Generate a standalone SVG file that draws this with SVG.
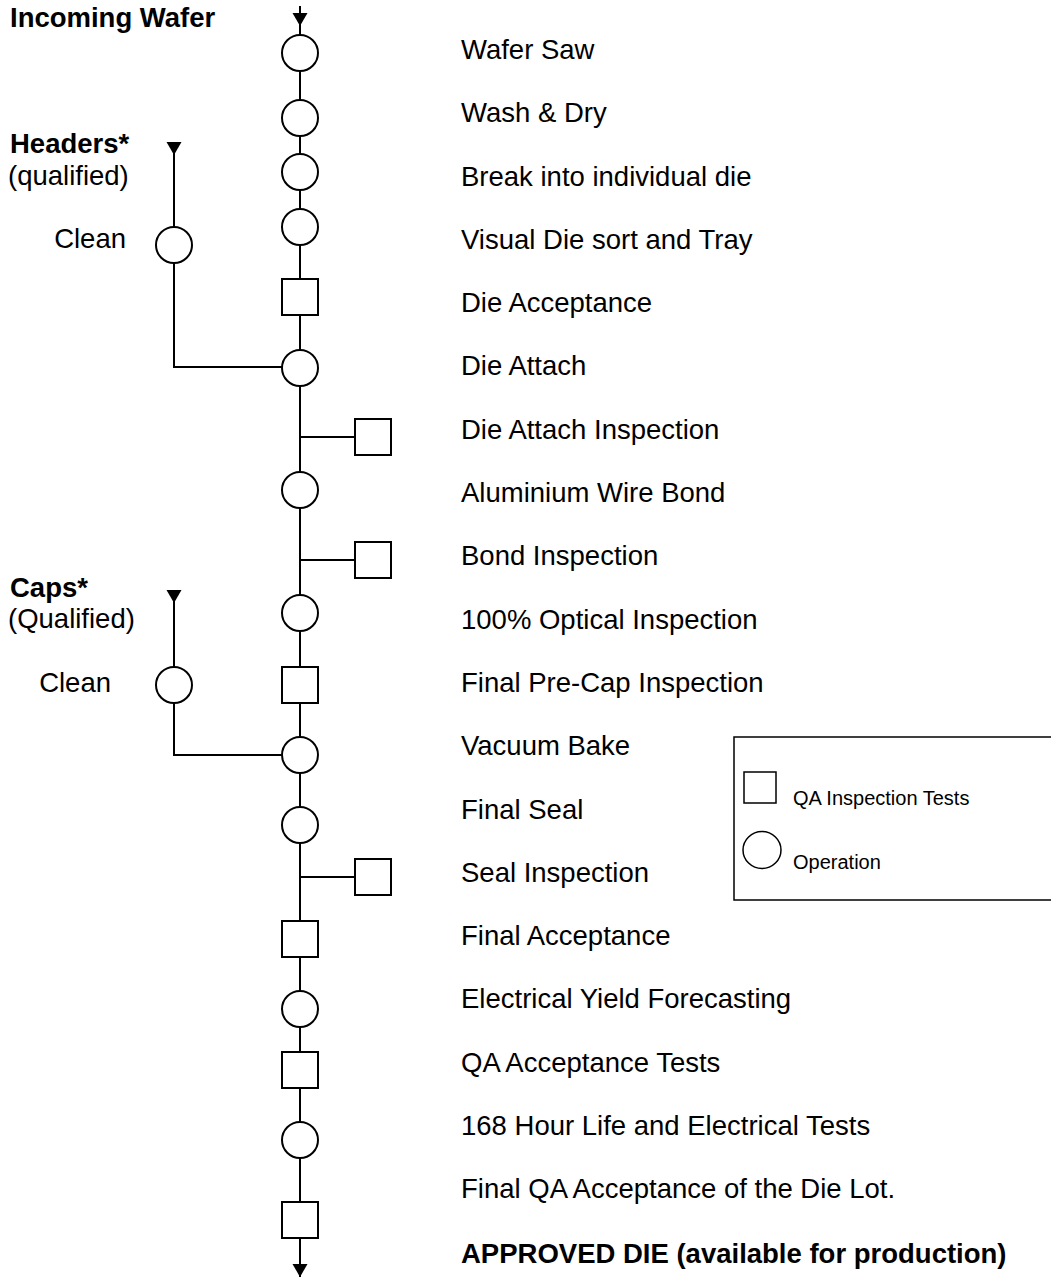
<svg xmlns="http://www.w3.org/2000/svg" width="1051" height="1278" viewBox="0 0 1051 1278">
<style>
text{font-family:"Liberation Sans",Arial,sans-serif;fill:#000}
.t{font-size:27.5px}
.b{font-size:27.5px;font-weight:bold}
.s{font-size:20px}
.op,.qa{fill:#fff;stroke:#000;stroke-width:2}
.c{fill:none;stroke:#000;stroke-width:2}
.lg{fill:#fff;stroke:#000;stroke-width:1.5}
</style>
<defs>
<marker id="ah" markerUnits="userSpaceOnUse" markerWidth="14" markerHeight="16" refX="13" refY="8" orient="auto" viewBox="0 0 14 16">
<path d="M0,0.5 L13,8 L0,15.5 z" fill="#000"/>
</marker>
</defs>
<rect width="1051" height="1278" fill="#fff"/>
<g id="connectors">
<path class="c" d="M300,6 V26" marker-end="url(#ah)"/>
<path class="c" d="M300,24 V35"/>
<path class="c" d="M300,71 V100"/>
<path class="c" d="M300,136 V154"/>
<path class="c" d="M300,190 V209"/>
<path class="c" d="M300,245 V279"/>
<path class="c" d="M300,315 V350"/>
<path class="c" d="M300,386 V472"/>
<path class="c" d="M300,437 H355"/>
<path class="c" d="M300,508 V595"/>
<path class="c" d="M300,560 H355"/>
<path class="c" d="M300,631 V667"/>
<path class="c" d="M300,703 V737"/>
<path class="c" d="M300,773 V807"/>
<path class="c" d="M300,843 V921"/>
<path class="c" d="M300,877 H355"/>
<path class="c" d="M300,957 V991"/>
<path class="c" d="M300,1027 V1052"/>
<path class="c" d="M300,1088 V1122"/>
<path class="c" d="M300,1158 V1202"/>
<path class="c" d="M300,1238 V1277" marker-end="url(#ah)"/>
<path class="c" d="M174,142 V155" marker-end="url(#ah)"/>
<path class="c" d="M174,153 V227"/>
<path class="c" d="M174,263 V367 H282"/>
<path class="c" d="M174,590 V603" marker-end="url(#ah)"/>
<path class="c" d="M174,601 V667"/>
<path class="c" d="M174,703 V755 H282"/>
</g>
<g id="labels-left">
<text class="b" x="10" y="27">Incoming Wafer</text>
<text class="b" x="10" y="153">Headers*</text>
<text class="t" x="8" y="185">(qualified)</text>
<text class="b" x="10" y="597">Caps*</text>
<text class="t" x="8" y="628">(Qualified)</text>
</g>
<g id="clean-headers"><circle class="op" cx="174" cy="245" r="18"/><text class="t" x="126" y="248" text-anchor="end">Clean</text></g>
<g id="clean-caps"><circle class="op" cx="174" cy="685" r="18"/><text class="t" x="111" y="692" text-anchor="end">Clean</text></g>
<g id="n0"><circle class="op" cx="300" cy="53" r="18"/><text class="t" x="461" y="59">Wafer Saw</text></g>
<g id="n1"><circle class="op" cx="300" cy="118" r="18"/><text class="t" x="461" y="122">Wash &amp; Dry</text></g>
<g id="n2"><circle class="op" cx="300" cy="172" r="18"/><text class="t" x="461" y="186">Break into individual die</text></g>
<g id="n3"><circle class="op" cx="300" cy="227" r="18"/><text class="t" x="461" y="249">Visual Die sort and Tray</text></g>
<g id="n4"><rect class="qa" x="282" y="279" width="36" height="36"/><text class="t" x="461" y="312">Die Acceptance</text></g>
<g id="n5"><circle class="op" cx="300" cy="368" r="18"/><text class="t" x="461" y="375">Die Attach</text></g>
<g id="n6"><rect class="qa" x="355" y="419" width="36" height="36"/><text class="t" x="461" y="439">Die Attach Inspection</text></g>
<g id="n7"><circle class="op" cx="300" cy="490" r="18"/><text class="t" x="461" y="502">Aluminium Wire Bond</text></g>
<g id="n8"><rect class="qa" x="355" y="542" width="36" height="36"/><text class="t" x="461" y="565">Bond Inspection</text></g>
<g id="n9"><circle class="op" cx="300" cy="613" r="18"/><text class="t" x="461" y="629">100% Optical Inspection</text></g>
<g id="n10"><rect class="qa" x="282" y="667" width="36" height="36"/><text class="t" x="461" y="692">Final Pre-Cap Inspection</text></g>
<g id="n11"><circle class="op" cx="300" cy="755" r="18"/><text class="t" x="461" y="755">Vacuum Bake</text></g>
<g id="n12"><circle class="op" cx="300" cy="825" r="18"/><text class="t" x="461" y="819">Final Seal</text></g>
<g id="n13"><rect class="qa" x="355" y="859" width="36" height="36"/><text class="t" x="461" y="882">Seal Inspection</text></g>
<g id="n14"><rect class="qa" x="282" y="921" width="36" height="36"/><text class="t" x="461" y="945">Final Acceptance</text></g>
<g id="n15"><circle class="op" cx="300" cy="1009" r="18"/><text class="t" x="461" y="1008">Electrical Yield Forecasting</text></g>
<g id="n16"><rect class="qa" x="282" y="1052" width="36" height="36"/><text class="t" x="461" y="1072">QA Acceptance Tests</text></g>
<g id="n17"><circle class="op" cx="300" cy="1140" r="18"/><text class="t" x="461" y="1135">168 Hour Life and Electrical Tests</text></g>
<g id="n18"><rect class="qa" x="282" y="1202" width="36" height="36"/><text class="t" x="461" y="1198">Final QA Acceptance of the Die Lot.</text></g>
<g id="end"><text class="b" x="461" y="1263">APPROVED DIE (available for production)</text></g>
<g id="legend">
<rect class="lg" x="734" y="737" width="330" height="163"/>
<rect class="lg" x="744" y="772" width="32" height="31"/>
<text class="s" x="793" y="805">QA Inspection Tests</text>
<ellipse class="lg" cx="762" cy="850" rx="19" ry="18.5"/>
<text class="s" x="793" y="869">Operation</text>
</g>
</svg>
